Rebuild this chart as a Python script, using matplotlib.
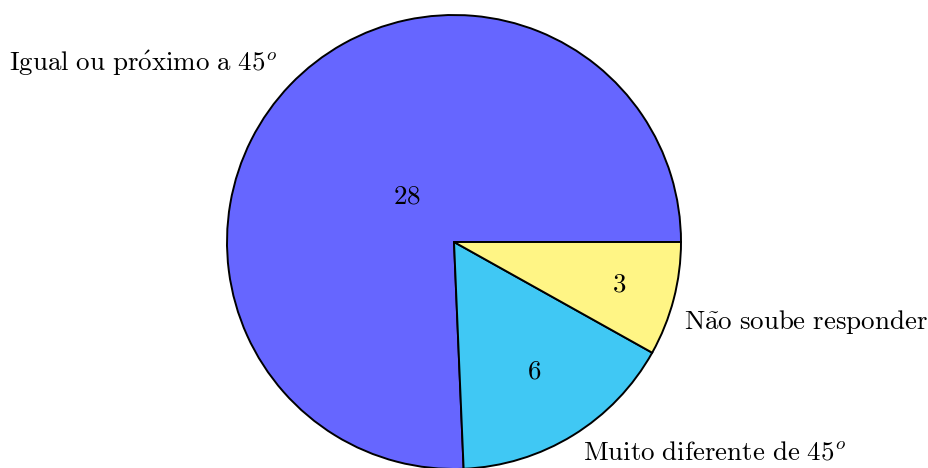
import numpy as np
import matplotlib
matplotlib.use("Agg")
import matplotlib.pyplot as plt

plt.rcParams["mathtext.fontset"] = "cm"

# Respostas
labels = [r"$\mathrm{Igual\ ou\ pr\acute{o}ximo\ a\ 45}^o$",
          r"$\mathrm{Muito\ diferente\ de\ 45}^o$",
          r"$\mathrm{N\tilde{a}o\ soube\ responder}$"]
values = [28, 6, 3]
colors = ["#6666FF", "#40C8F4", "#FFF585"]

fig = plt.figure(figsize=(9.29, 4.68), dpi=100)
ax = fig.add_axes([0, 0, 1, 1])

cx, cy, r = 454, 226, 227
wedges, _ = ax.pie(values, colors=colors, startangle=0, counterclock=True,
                   center=(cx, cy), radius=r, frame=True,
                   wedgeprops=dict(edgecolor="black", linewidth=1.4))
ax.set_xlim(0, 929)
ax.set_ylim(0, 468)
ax.set_aspect("equal")
ax.axis("off")

fs = 19.4

# posicao dos numeros dentro das fatias (fracao do raio)
inner_frac = [0.29, 0.67, 0.75]
for w, v, f in zip(wedges, values, inner_frac):
    mid = np.deg2rad((w.theta1 + w.theta2) / 2)
    ax.text(cx + f * r * np.cos(mid), cy + f * r * np.sin(mid), r"$%d$" % v,
            ha="center", va="center", fontsize=fs)

# rotulos externos
ax.text(277, 405, labels[0], ha="right", va="center", fontsize=fs)
ax.text(583, 2, labels[1], ha="left", va="bottom", fontsize=fs)
ax.text(684, 146, labels[2], ha="left", va="center", fontsize=fs)

fig.savefig("out.png", dpi=100)
